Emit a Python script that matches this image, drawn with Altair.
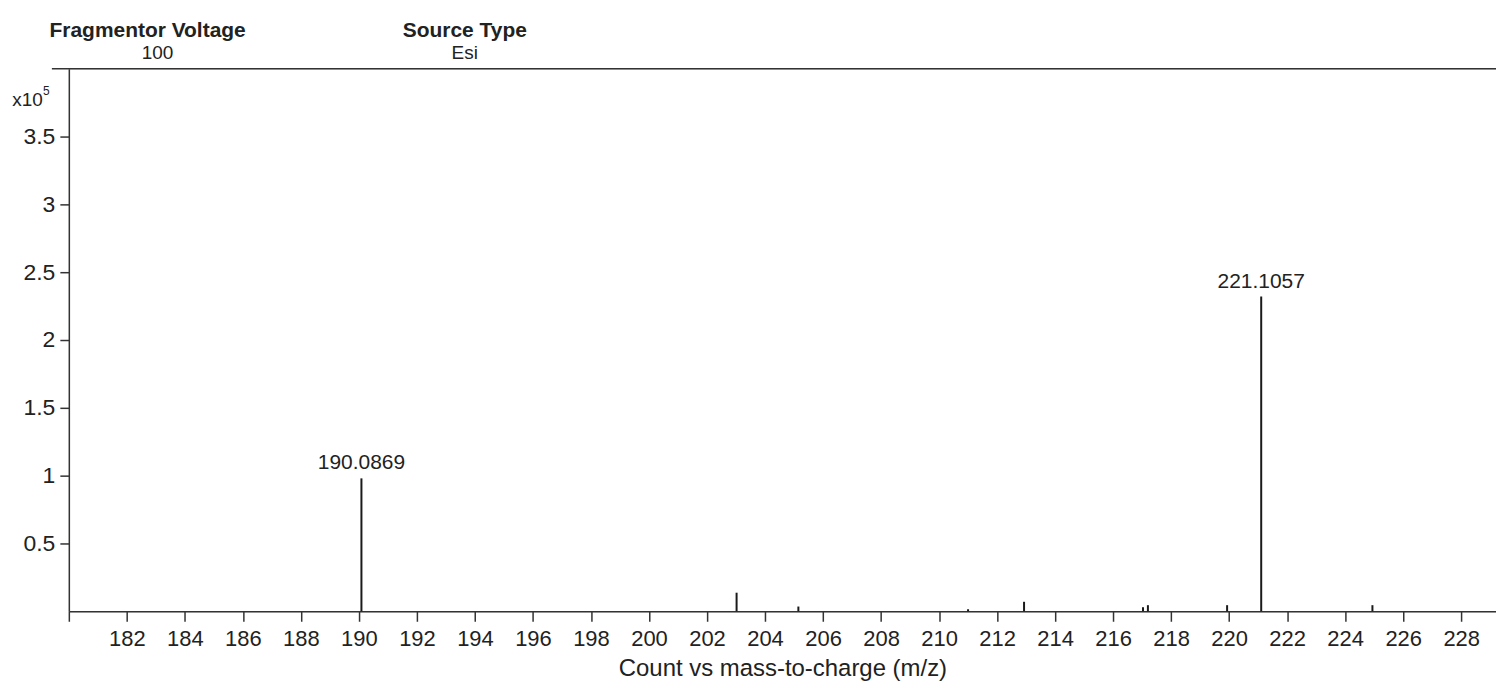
import altair as alt
import pandas as pd

# Peak list (m/z, intensity in units of 1e5 counts)
mz = [190.0869, 203.02, 205.15, 211.0, 212.93, 217.03, 217.2, 219.93, 221.1057, 224.94]
intensity = [0.98, 0.137, 0.035, 0.015, 0.07, 0.03, 0.045, 0.045, 2.32, 0.045]
labeled_mz = [190.0869, 221.1057]
labeled_intensity = [0.98, 2.32]
labeled_text = ["190.0869", "221.1057"]

x_ticks = list(range(180, 229, 2))
y_ticks = [0.5, 1, 1.5, 2, 2.5, 3, 3.5]

header_titles = ["Fragmentor Voltage", "Source Type"]
header_values = ["100", "Esi"]

FONT = "Liberation Sans"
W, H = 1431, 544

peaks = pd.DataFrame({"mz": mz, "intensity": intensity})
labels = pd.DataFrame({"mz": labeled_mz, "intensity": labeled_intensity, "label": labeled_text})

xscale = alt.Scale(domain=[180, 229.2], nice=False, zero=False)
yscale = alt.Scale(domain=[0, 4.0], nice=False)

x_axis = alt.Axis(
    values=x_ticks,
    labelExpr="datum.value == 180 ? '' : datum.value",
    title="Count vs mass-to-charge (m/z)",
    tickSize=10, labelPadding=7, titlePadding=7,
    labelFontSize=22, titleFontSize=24, titleFontWeight="normal",
    labelColor="#222", titleColor="#222", labelFont=FONT, titleFont=FONT,
    domainColor="#333", tickColor="#333", grid=False, domainWidth=1.5, tickWidth=1.5,
)
y_axis = alt.Axis(
    values=y_ticks, format="~g", title=None,
    tickSize=9, labelPadding=5,
    labelFontSize=23, labelColor="#222", labelFont=FONT,
    domainColor="#333", tickColor="#333", grid=False, domainWidth=1.5, tickWidth=1.5,
)

sticks = alt.Chart(peaks).mark_rule(color="#1a1a1a", strokeWidth=2).encode(
    x=alt.X("mz:Q", scale=xscale, axis=x_axis),
    y=alt.Y("intensity:Q", scale=yscale, axis=y_axis),
    y2=alt.datum(0),
)

peak_text = alt.Chart(labels).mark_text(
    font=FONT, fontSize=21, color="#222", baseline="alphabetic", dy=-9
).encode(
    x=alt.X("mz:Q", scale=xscale),
    y=alt.Y("intensity:Q", scale=yscale),
    text="label:N",
)

top_line = alt.Chart(pd.DataFrame({"k": [0]})).mark_rule(color="#333", strokeWidth=1.5).encode(
    x=alt.value(-17), x2=alt.value(W), y=alt.value(0)
)

hdr = pd.DataFrame({"t": header_titles, "px": [79, 397]})
hdr_vals = pd.DataFrame({"t": header_values, "px": [89, 397]})

def header_text(df, y, bold, size):
    return alt.Chart(df).mark_text(
        font=FONT, fontSize=size, fontWeight="bold" if bold else "normal",
        color="#222", baseline="middle", align="center"
    ).encode(x=alt.X("px:Q", scale=None), y=alt.value(y), text="t:N")

h1 = header_text(hdr, -38, True, 21)
h2 = header_text(hdr_vals, -16, False, 19)

exp_df = pd.DataFrame({"t": ["x10"], "s": ["5"]})
exp_main = alt.Chart(exp_df).mark_text(
    font=FONT, fontSize=19, color="#222", align="right", baseline="middle"
).encode(x=alt.value(-26), y=alt.value(31), text="t:N")
exp_sup = alt.Chart(exp_df).mark_text(
    font=FONT, fontSize=12, color="#222", align="left", baseline="middle"
).encode(x=alt.value(-26), y=alt.value(22), text="s:N")

chart = alt.layer(top_line, sticks, peak_text, h1, h2, exp_main, exp_sup).properties(
    width=W, height=H,
    autosize=alt.AutoSizeParams(type="none"),
    padding={"left": 61, "top": 60, "right": 0, "bottom": 70},
    background="white",
).configure_view(stroke=None).configure(font=FONT)

chart.save("out.html", embed_options={"renderer": "svg", "actions": False})
